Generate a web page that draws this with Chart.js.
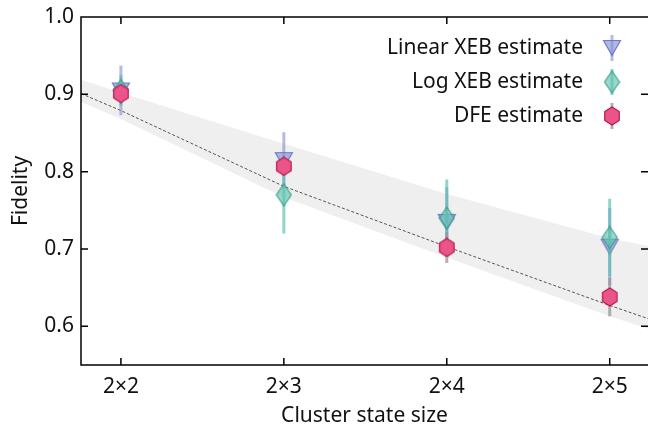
<!DOCTYPE html>
<html>
<head>
<meta charset="utf-8">
<script src="https://cdn.jsdelivr.net/npm/chart.js@4"></script>
<style>
  html, body { margin: 0; padding: 0; background: #fff; }
</style>
</head>
<body>
<canvas id="c" width="648" height="426"></canvas>
<script>
// data
const sizes = ['2×2', '2×3', '2×4', '2×5'];
const sizeX = [2, 3, 4, 5];
const linearXeb = [0.905, 0.815, 0.735, 0.703];
const linearXebErr = [0.032, 0.036, 0.045, 0.05];
const logXeb = [0.905, 0.770, 0.740, 0.715];
const logXebErr = [0.02, 0.05, 0.05, 0.05];
const dfe = [0.901, 0.807, 0.702, 0.638];
const dfeErr = [0.01, 0.012, 0.02, 0.025];
const fitX = [1.755, 2, 3, 4, 5, 5.235];
const fitY = [0.901, 0.879, 0.781, 0.703, 0.627, 0.610];
const bandHi = [0.919, 0.902, 0.836, 0.771, 0.714, 0.704];
const bandLo = [0.890, 0.868, 0.767, 0.689, 0.613, 0.597];
const yTicks = [0.6, 0.7, 0.8, 0.9, 1.0];

const FONT = '"Noto Sans"';
Chart.defaults.font.family = FONT;
Chart.defaults.font.size = 21;
Chart.defaults.color = '#111';

const pts = (xs, ys) => xs.map((v, i) => ({ x: v, y: ys[i] }));

// marker images
function marker(kind, fill, stroke) {
  const c = document.createElement('canvas');
  const g = c.getContext('2d');
  if (kind === 'tri') {
    c.width = 20; c.height = 18;
    g.beginPath(); g.moveTo(1.5, 1.5); g.lineTo(18.5, 1.5); g.lineTo(10, 16.5); g.closePath();
  } else if (kind === 'dia') {
    c.width = 17; c.height = 24;
    g.beginPath(); g.moveTo(8.5, 1); g.lineTo(16, 12); g.lineTo(8.5, 23); g.lineTo(1, 12); g.closePath();
  } else {
    c.width = 18; c.height = 20;
    const cx = 9, cy = 10, r = 9;
    g.beginPath();
    for (let k = 0; k < 6; k++) {
      const a = -Math.PI / 2 + k * Math.PI / 3;
      const px = cx + r * 0.93 * Math.cos(a), py = cy + r * Math.sin(a);
      k ? g.lineTo(px, py) : g.moveTo(px, py);
    }
    g.closePath();
  }
  g.fillStyle = fill; g.fill();
  g.lineWidth = 1.2; g.strokeStyle = stroke; g.stroke();
  return c;
}

const triImg = marker('tri', 'rgba(135,145,212,0.65)', 'rgba(95,105,195,0.85)');
const diaImg = marker('dia', 'rgba(95,195,175,0.65)', 'rgba(50,150,135,0.85)');
const hexImg = marker('hex', '#ea5489', '#b8174f');

const errorBars = {
  id: 'errorBars',
  beforeDatasetDraw(chart, args) {
    const ds = chart.data.datasets[args.index];
    if (!ds.err) return;
    const { ctx, scales: { x, y } } = chart;
    ctx.save();
    ctx.strokeStyle = ds.barColor;
    ctx.lineWidth = 3;
    ds.data.forEach((p, i) => {
      const px = x.getPixelForValue(p.x);
      ctx.beginPath();
      ctx.moveTo(px, y.getPixelForValue(p.y - ds.err[i]));
      ctx.lineTo(px, y.getPixelForValue(p.y + ds.err[i]));
      ctx.stroke();
    });
    ctx.restore();
  }
};

// frame with inward ticks on all four sides + legend
const frame = {
  id: 'frame',
  afterDraw(chart) {
    const { ctx, chartArea: a, scales: { x, y } } = chart;
    ctx.save();
    ctx.strokeStyle = '#000';
    ctx.lineWidth = 1.5;
    ctx.beginPath();
    ctx.moveTo(a.right, a.top); ctx.lineTo(a.left, a.top); ctx.lineTo(a.left, a.bottom); ctx.lineTo(a.right, a.bottom);
    x.ticks.forEach(t => {
      const px = x.getPixelForValue(t.value);
      ctx.moveTo(px, a.bottom); ctx.lineTo(px, a.bottom - 7);
      ctx.moveTo(px, a.top); ctx.lineTo(px, a.top + 7);
    });
    y.ticks.forEach(t => {
      const py = y.getPixelForValue(t.value);
      ctx.moveTo(a.left, py); ctx.lineTo(a.left + 7, py);
      ctx.moveTo(a.right, py); ctx.lineTo(a.right - 7, py);
    });
    ctx.stroke();

    // legend, in the order of the reference
    const items = chart.data.datasets.filter(d => d.legendImg).sort((p, q) => q.order - p.order);
    ctx.font = '21px ' + FONT;
    ctx.textAlign = 'right';
    ctx.textBaseline = 'middle';
    items.forEach((d, i) => {
      const ty = 48 + i * 34;
      ctx.fillStyle = '#111';
      ctx.fillText(d.label, 583, ty);
      ctx.strokeStyle = d.barColor;
      ctx.lineWidth = 3;
      ctx.beginPath(); ctx.moveTo(612, ty - 13); ctx.lineTo(612, ty + 13); ctx.stroke();
      const im = d.legendImg;
      ctx.drawImage(im, 612 - im.width / 2, ty - im.height / 2);
    });
    ctx.restore();
  }
};

new Chart(document.getElementById('c'), {
  type: 'scatter',
  data: {
    datasets: [
      { label: 'DFE estimate', data: pts(sizeX, dfe), err: dfeErr, barColor: 'rgba(150,150,150,0.75)',
        pointStyle: hexImg, legendImg: hexImg, order: 0 },
      { label: 'Log XEB estimate', data: pts(sizeX, logXeb), err: logXebErr, barColor: 'rgba(85,190,172,0.65)',
        pointStyle: diaImg, legendImg: diaImg, order: 1 },
      { label: 'Linear XEB estimate', data: pts(sizeX, linearXeb), err: linearXebErr, barColor: 'rgba(130,140,208,0.6)',
        pointStyle: triImg, legendImg: triImg, order: 2 },
      { type: 'line', label: 'fit', data: pts(fitX, fitY), borderColor: '#555', borderWidth: 1,
        borderDash: [3, 2], pointRadius: 0, fill: false, order: 3 },
      { type: 'line', label: 'band hi', data: pts(fitX, bandHi), borderWidth: 0, pointRadius: 0,
        backgroundColor: '#efefef', fill: '+1', order: 4 },
      { type: 'line', label: 'band lo', data: pts(fitX, bandLo), borderWidth: 0, pointRadius: 0,
        fill: false, order: 5 }
    ]
  },
  options: {
    responsive: false,
    animation: false,
    layout: { autoPadding: false, padding: { top: 17, right: 0, left: 0, bottom: 0 } },
    plugins: { legend: { display: false }, tooltip: { enabled: false } },
    scales: {
      x: {
        type: 'linear', min: 1.755, max: 5.235,
        afterBuildTicks: s => { s.ticks = sizeX.map(v => ({ value: v })); },
        afterFit: s => { s.height = 61; s.paddingLeft = 0; s.paddingRight = 0; },
        grid: { display: false, drawTicks: false }, border: { display: false },
        ticks: { callback: v => sizes[sizeX.indexOf(v)], padding: 9, maxRotation: 0, autoSkip: false },
        title: { display: true, text: 'Cluster state size', padding: { top: -3, bottom: -3 } }
      },
      y: {
        min: 0.55, max: 1.0,
        afterBuildTicks: s => { s.ticks = yTicks.map(v => ({ value: v })); },
        afterFit: s => { s.width = 81; s.paddingTop = 0; s.paddingBottom = 0; },
        grid: { display: false, drawTicks: false }, border: { display: false },
        ticks: { callback: v => v.toFixed(1), padding: 7 },
        title: { display: true, text: 'Fidelity', padding: { top: 8, bottom: 8 } }
      }
    }
  },
  plugins: [errorBars, frame]
});
</script>
</body>
</html>
